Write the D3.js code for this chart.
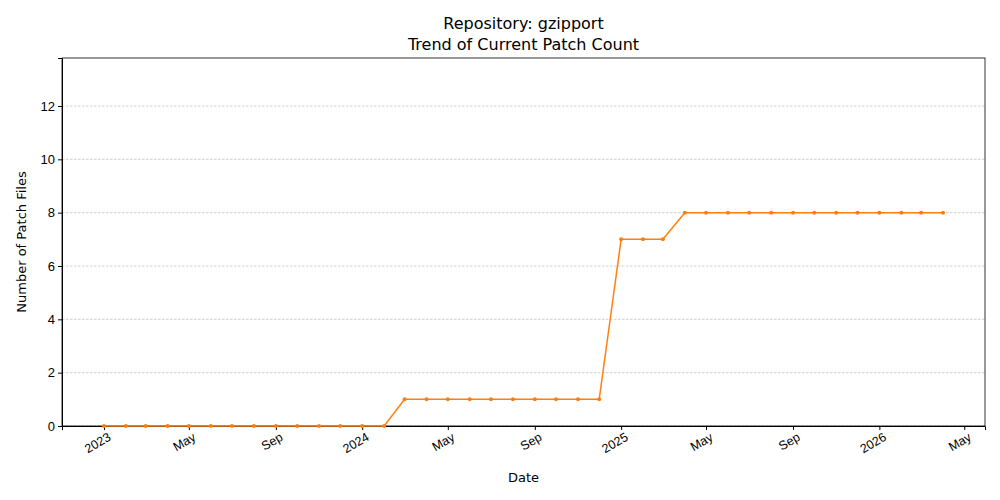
<!DOCTYPE html>
<html><head><meta charset="utf-8">
<script src="https://cdn.jsdelivr.net/npm/d3@7/dist/d3.min.js"></script>
<style>body{margin:0;background:#fff}svg{font-family:"DejaVu Sans",sans-serif}</style>
</head><body><svg id="c" width="1000" height="500"></svg>
<script>
const months = d3.timeMonths(new Date(2023,0,1), new Date(2026,4,1));
const counts = [0,0,0,0,0,0,0,0,0,0,0,0, 0,0,1,1,1,1,1,1,1,1,1,1, 7,7,7,8,8,8,8,8,8,8,8,8, 8,8,8,8];
const yTicks = [0,2,4,6,8,10,12];
const data = months.map((d,i)=>({date:d, value:counts[i]}));

const margin = {top:58, right:15, bottom:74, left:62};
const width = 1000 - margin.left - margin.right, height = 500 - margin.top - margin.bottom;
const svg = d3.select('#c');
const g = svg.append('g').attr('transform', `translate(${margin.left},${margin.top})`);

const t0 = months[0], t1 = months[months.length-1], pad = (t1 - t0) * 0.05;
const x = d3.scaleTime().domain([new Date(+t0 - pad), new Date(+t1 + pad)]).range([0, width]);
const y = d3.scaleLinear().domain([0, 13.8]).range([height, 0]);

g.selectAll('.grid').data(yTicks).enter().append('line')
  .attr('x1',0).attr('x2',width).attr('y1',d=>y(d)).attr('y2',d=>y(d))
  .attr('stroke','#b0b0b0').attr('stroke-width',0.6).attr('stroke-dasharray','2.5 1.5');

const xTicks = d3.timeMonths(new Date(2023,0,1), new Date(2026,5,1), 4);
const fmt = d => d.getMonth()===0 ? d3.timeFormat('%Y')(d) : d3.timeFormat('%b')(d);
const xa = g.append('g').attr('transform',`translate(0,${height})`)
  .call(d3.axisBottom(x).tickValues(xTicks).tickFormat(fmt).tickSizeOuter(0).tickSize(4));
xa.selectAll('text').attr('font-size',12.5).attr('text-anchor','end')
  .attr('y',0).attr('dy','0.7em').attr('transform','translate(3,6) rotate(-30)');
const ya = g.append('g').call(d3.axisLeft(y).tickValues(yTicks).tickSizeOuter(0).tickSize(4));
ya.selectAll('text').attr('font-size',13);
g.append('rect').attr('width',width).attr('height',height).attr('fill','none').attr('stroke','#000').attr('stroke-width',0.8);

g.append('path').datum(data).attr('fill','none').attr('stroke','#ff7f0e').attr('stroke-width',1.5)
  .attr('d', d3.line().x(d=>x(d.date)).y(d=>y(d.value)));
g.selectAll('.pt').data(data).enter().append('circle')
  .attr('cx',d=>x(d.date)).attr('cy',d=>y(d.value)).attr('r',2).attr('fill','#ff7f0e');

svg.append('text').attr('x',margin.left+width/2).attr('y',29).attr('text-anchor','middle').attr('font-size',16).text('Repository: gzipport');
svg.append('text').attr('x',margin.left+width/2).attr('y',50).attr('text-anchor','middle').attr('font-size',16).text('Trend of Current Patch Count');
svg.append('text').attr('x',margin.left+width/2).attr('y',482).attr('text-anchor','middle').attr('font-size',13).text('Date');
svg.append('text').attr('transform',`translate(26,${margin.top+height/2}) rotate(-90)`).attr('text-anchor','middle').attr('font-size',13).text('Number of Patch Files');
</script></body></html>
